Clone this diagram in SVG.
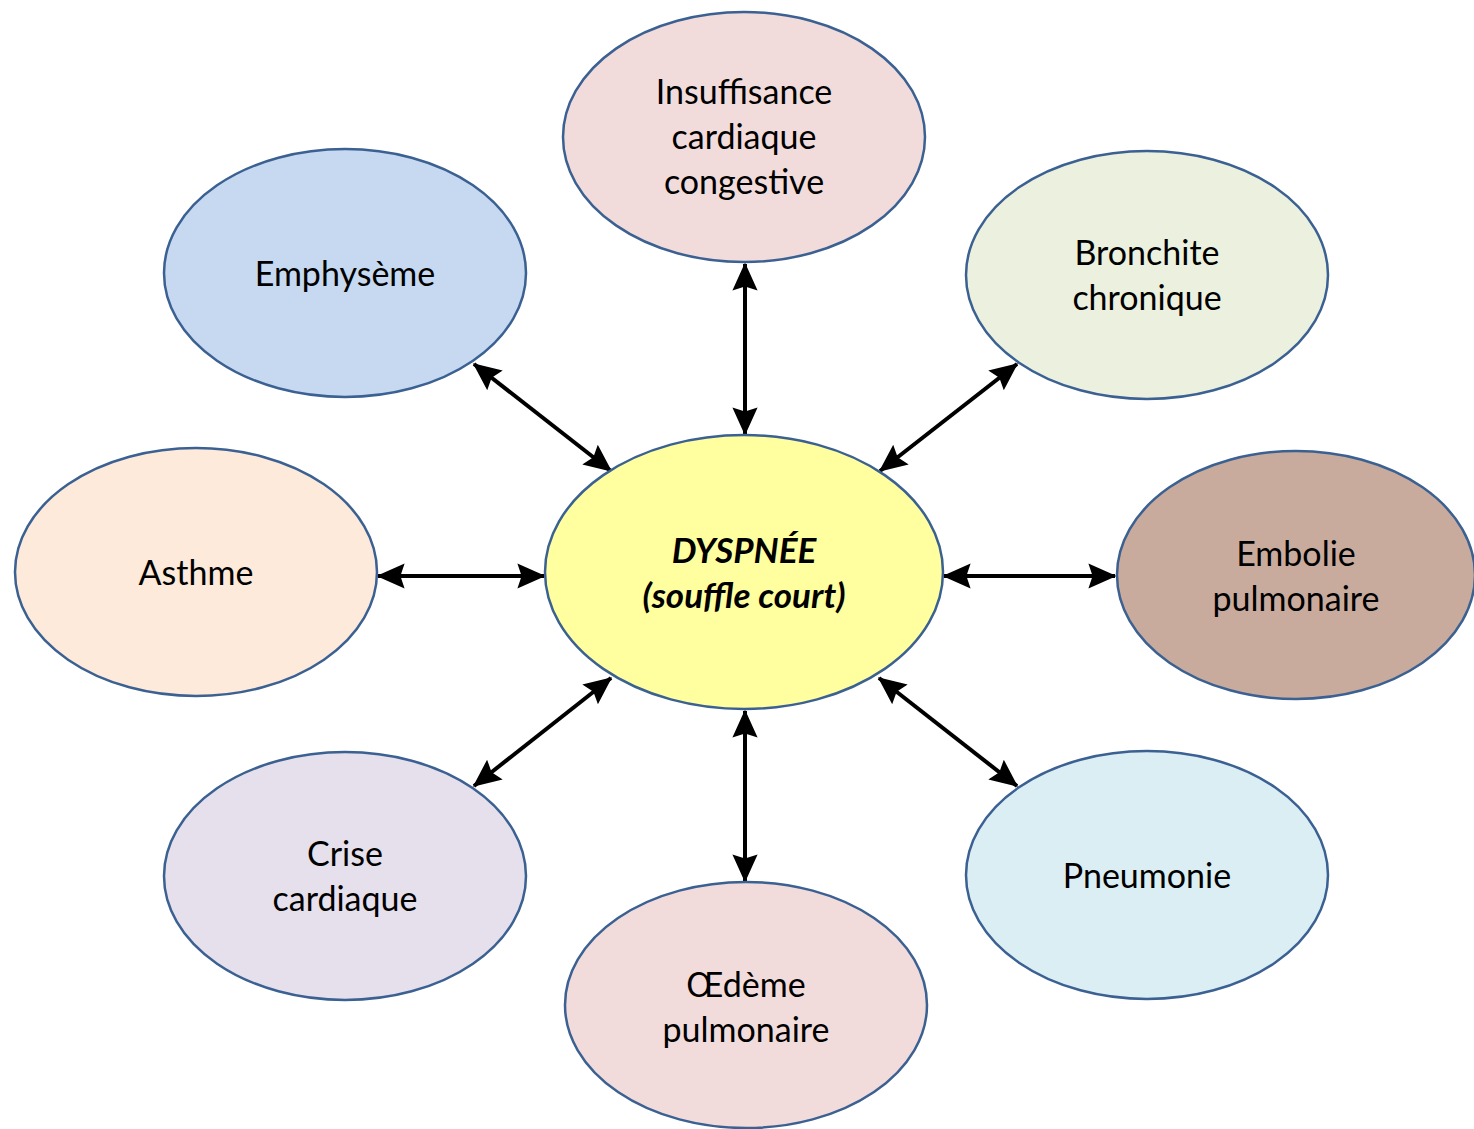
<svg xmlns="http://www.w3.org/2000/svg" width="1474" height="1129" viewBox="0 0 1474 1129">
<style>
.n{stroke:#3b6092;stroke-width:2.5}
.t{font-family:Lato,"Open Sans",sans-serif;font-size:34px;fill:#000;text-anchor:middle}
.c{font-weight:bold;font-style:italic;font-size:35px}
.a{stroke:#000;stroke-width:4;fill:none;marker-start:url(#ah);marker-end:url(#ah)}
</style>
<defs>
<marker id="ah" viewBox="0 0 10 10" refX="9.5" refY="5" markerWidth="7" markerHeight="7" orient="auto-start-reverse" markerUnits="strokeWidth">
<path d="M0,0.5 L10,5 L0,9.5 L1.5,5 z" fill="#000"/>
</marker>
</defs>
<g id="connectors">
<line class="a" x1="745" y1="264" x2="745" y2="434"/>
<line class="a" x1="474" y1="364" x2="611" y2="471"/>
<line class="a" x1="1017" y1="364" x2="880" y2="471"/>
<line class="a" x1="378" y1="576" x2="544" y2="576"/>
<line class="a" x1="944" y1="576" x2="1115" y2="576"/>
<line class="a" x1="474" y1="786" x2="611" y2="678"/>
<line class="a" x1="1017" y1="786" x2="879" y2="678"/>
<line class="a" x1="745" y1="711" x2="745" y2="881"/>
</g>
<g id="insuffisance"><ellipse class="n" cx="744" cy="137" rx="181" ry="125" fill="#f2dcdb"/><text class="t" x="744" y="104">Insuffisance</text><text class="t" x="744" y="149">cardiaque</text><text class="t" x="744" y="194">congestive</text></g>
<g id="emphyseme"><ellipse class="n" cx="345" cy="273" rx="181" ry="124" fill="#c6d9f1"/><text class="t" x="345" y="286">Emphysème</text></g>
<g id="bronchite"><ellipse class="n" cx="1147" cy="275" rx="181" ry="124" fill="#ebf1de"/><text class="t" x="1147" y="265">Bronchite</text><text class="t" x="1147" y="310">chronique</text></g>
<g id="asthme"><ellipse class="n" cx="196" cy="572" rx="181" ry="124" fill="#fdeada"/><text class="t" x="196" y="585">Asthme</text></g>
<g id="dyspnee"><ellipse class="n" cx="744" cy="572" rx="199" ry="137" fill="#ffff9f"/><text class="t c" x="744" y="563">DYSPNÉE</text><text class="t c" x="744" y="608">(souffle court)</text></g>
<g id="embolie"><ellipse class="n" cx="1296" cy="575" rx="179" ry="124" fill="#c9ab9d"/><text class="t" x="1296" y="566">Embolie</text><text class="t" x="1296" y="611">pulmonaire</text></g>
<g id="crise"><ellipse class="n" cx="345" cy="876" rx="181" ry="124" fill="#e5e0ec"/><text class="t" x="345" y="866">Crise</text><text class="t" x="345" y="911">cardiaque</text></g>
<g id="pneumonie"><ellipse class="n" cx="1147" cy="875" rx="181" ry="124" fill="#dbeef4"/><text class="t" x="1147" y="888">Pneumonie</text></g>
<g id="oedeme"><ellipse class="n" cx="746" cy="1005" rx="181" ry="123" fill="#f2dcdb"/><text class="t" x="746" y="997">Œdème</text><text class="t" x="746" y="1042">pulmonaire</text></g>
</svg>
